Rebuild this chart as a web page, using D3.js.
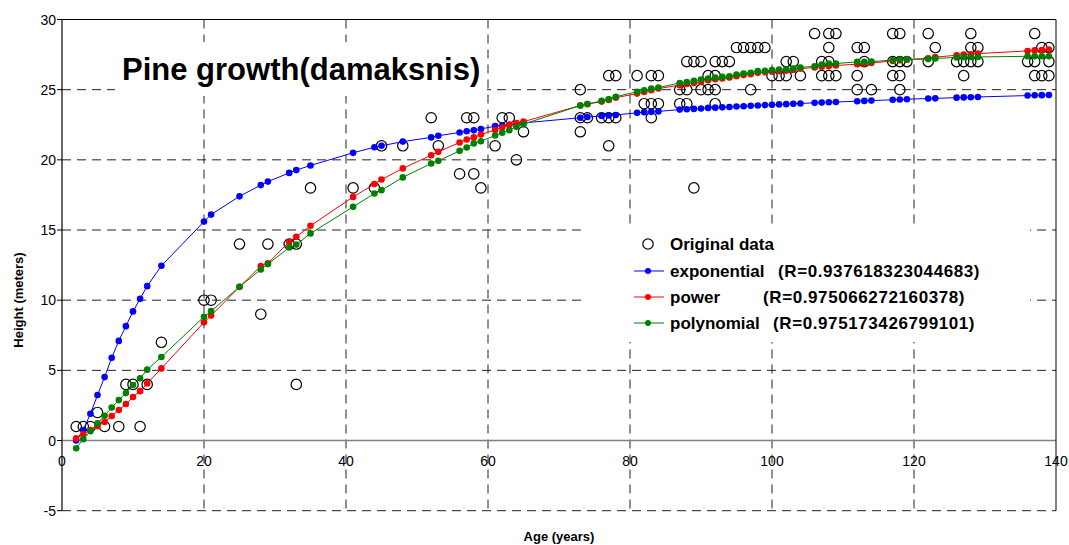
<!DOCTYPE html>
<html><head><meta charset="utf-8">
<script src="https://cdn.jsdelivr.net/npm/d3@7/dist/d3.min.js"></script>
<style>body{margin:0;background:#fff}svg{display:block}text{font-family:"Liberation Sans",Arial,sans-serif}</style>
</head><body><svg id="c" width="1069" height="545"></svg>
<script>
// ---- data ----
const dataAges = [2,3,4,5,6,8,9,10,11,12,14,20,21,25,28,29,32,33,33,35,41,44,45,48,52,53,56,57,58,58,59,61,62,63,64,65,
73,73,73,74,76,77,77,77,78,78,81,82,83,83,83,84,84,87,87,88,88,88,89,90,89,90,91,91,92,92,92,92,93,94,
95,96,97,98,99,97,100,101,102,104,102,103,106,108,109,108,107,108,107,108,109,112,113,112,112,114,113,
117,118,117,118,118,117,118,119,122,123,122,128,128,129,126,127,128,129,127,137,138,139,136,137,139,137,138,139];
const dataHeights = [1,1,1,2,1,1,4,4,1,4,7,10,10,14,9,14,14,14,4,18,18,18,21,21,23,21,19,23,23,19,18,21,23,23,20,22,
25,23,22,23,23,23,21,26,26,23,26,24,26,24,23,26,24,25,24,25,24,27,27,27,18,25,25,26,26,25,24,27,27,27,
28,28,28,28,28,25,26,26,26,26,27,27,29,29,29,28,27,27,26,26,26,28,28,26,25,25,27,
29,29,26,26,25,27,27,27,29,28,27,29,28,28,27,27,27,27,26,29,28,28,27,27,27,26,26,26];

const fitAges = [2,3,4,5,6,7,8,9,10,11,12,14,20,21,25,28,29,32,33,35,41,44,45,48,52,53,56,57,58,59,61,62,63,64,65,
73,74,76,77,78,81,82,83,84,87,88,89,90,91,92,93,94,95,96,97,98,99,100,101,102,103,104,106,107,108,109,
112,113,114,117,118,119,122,123,126,127,128,129,136,137,138,139];
const expValues = [0.0,0.75,1.9,3.24,4.52,5.9,7.1,8.15,9.2,10.1,11.0,12.45,15.6,16.1,17.4,18.2,18.45,19.07,19.27,19.6,20.5,20.9,21.0,21.3,21.6,21.72,21.95,22.04,22.1,22.2,22.4,22.45,22.5,22.58,22.63,
23.0,23.05,23.12,23.16,23.2,23.35,23.4,23.42,23.45,23.58,23.6,23.63,23.66,23.7,23.72,23.74,23.77,23.8,23.82,23.85,23.87,23.9,23.92,23.95,23.97,24.0,24.02,24.06,24.08,24.1,24.12,
24.18,24.2,24.22,24.28,24.3,24.32,24.37,24.38,24.43,24.45,24.46,24.48,24.58,24.6,24.61,24.62];
const powValues = [0.15,0.45,0.75,1.02,1.32,1.74,2.17,2.6,3.1,3.52,4.07,5.14,8.42,8.9,10.95,12.43,12.62,14.16,14.52,15.3,17.36,18.27,18.6,19.39,20.33,20.57,21.24,21.45,21.6,21.8,22.13,22.3,22.5,22.62,22.72,
23.87,23.97,24.15,24.27,24.43,24.72,24.84,24.96,25.08,25.32,25.4,25.48,25.55,25.68,25.74,25.8,25.86,25.96,26.04,26.1,26.2,26.24,26.28,26.32,26.35,26.4,26.5,26.58,26.64,26.68,26.72,
26.82,26.86,26.9,27.05,27.1,27.14,27.24,27.32,27.45,27.5,27.52,27.57,27.76,27.8,27.82,27.86];
const polyValues = [-0.55,0.1,0.66,1.22,1.77,2.35,2.88,3.38,3.95,4.43,5.05,5.95,8.82,9.22,10.95,12.19,12.57,13.75,13.96,14.76,16.65,17.6,17.84,18.75,19.74,19.93,20.64,20.88,21.17,21.33,21.73,21.93,22.11,22.35,22.54,
23.87,23.98,24.2,24.32,24.5,24.85,24.96,25.08,25.15,25.48,25.55,25.63,25.72,25.8,25.86,25.91,25.96,26.08,26.15,26.2,26.32,26.34,26.39,26.44,26.46,26.51,26.58,26.67,26.79,26.86,26.86,
26.98,26.99,27.0,27.1,27.15,27.15,27.18,27.22,27.3,27.32,27.33,27.33,27.38,27.38,27.38,27.38];

const xTicks = [0,20,40,60,80,100,120,140];
const yTicks = [-5,0,5,10,15,20,25,30];
const titleText = "Pine growth(damaksnis)";
const xTitle = "Age (years)";
const yTitle = "Height (meters)";
const seriesNames = ["exponential","power","polynomial"];
const seriesR = ["(R=0.937618323044683)","(R=0.975066272160378)","(R=0.975173426799101)"];
const seriesColors = ["#0000ff","#ff0000","#008000"];

// ---- layout ----
const svg = d3.select("#c");
const L = 62, R = 1056, T = 19.5, B = 510.7;
const x = d3.scaleLinear().domain([0,140]).range([L,R]);
const y = d3.scaleLinear().domain([-5,30]).range([B,T]);

const g = svg.append("g");
// gridlines
g.selectAll(".hg").data(yTicks.filter(v=>v!==0 && v!==30)).enter().append("line")
  .attr("x1",L).attr("x2",R).attr("y1",d=>y(d)).attr("y2",d=>y(d))
  .attr("stroke","#222").attr("stroke-width",1).attr("stroke-dasharray","9,6");
g.selectAll(".vg").data(xTicks.filter(v=>v!==0 && v!==140)).enter().append("line")
  .attr("y1",T).attr("y2",B).attr("x1",d=>x(d)).attr("x2",d=>x(d))
  .attr("stroke","#222").attr("stroke-width",1).attr("stroke-dasharray","9,6");
// zero line
g.append("line").attr("x1",L).attr("x2",R).attr("y1",y(0)).attr("y2",y(0)).attr("stroke","#808080").attr("stroke-width",1.5);
// border
g.append("line").attr("x1",L).attr("x2",R).attr("y1",T).attr("y2",T).attr("stroke","#000");
g.append("line").attr("x1",R).attr("x2",R).attr("y1",T).attr("y2",B).attr("stroke","#000");
g.append("line").attr("x1",L).attr("x2",L).attr("y1",T).attr("y2",B).attr("stroke","#000").attr("stroke-width",1.2);

// y axis labels + ticks
g.selectAll(".yl").data(yTicks).enter().append("text")
  .attr("x",L-6).attr("y",d=>y(d)+5).attr("text-anchor","end").attr("font-size",14).attr("fill","#000").text(d=>d);
g.selectAll(".yt").data(yTicks).enter().append("line")
  .attr("x1",L-5).attr("x2",L).attr("y1",d=>y(d)).attr("y2",d=>y(d)).attr("stroke","#000");
// x axis labels
g.selectAll(".xl").data(xTicks).enter().append("text")
  .attr("x",d=>x(d)).attr("y",y(0)+25).attr("text-anchor","middle").attr("font-size",14).attr("fill","#000").text(d=>d);

// axis titles
svg.append("text").attr("x",(L+R)/2).attr("y",541).attr("text-anchor","middle").attr("font-size",13).attr("font-weight","bold").text(xTitle);
svg.append("text").attr("transform","translate(23,300) rotate(-90)").attr("text-anchor","middle").attr("font-size",13).attr("font-weight","bold").text(yTitle);

// title
svg.append("rect").attr("x",115).attr("y",42).attr("width",372).attr("height",54).attr("fill","#fff");
svg.append("text").attr("x",122).attr("y",80).attr("font-size",31).attr("font-weight","bold").text(titleText);

// legend box
svg.append("rect").attr("x",585).attr("y",224).attr("width",445).attr("height",118).attr("fill","#fff");

// data circles
svg.append("g").selectAll("circle").data(dataAges.map((a,i)=>[a,dataHeights[i]])).enter().append("circle")
  .attr("cx",d=>x(d[0])).attr("cy",d=>y(d[1])).attr("r",5.2).attr("fill","none").attr("stroke","#000").attr("stroke-width",1.2);

// fits
const fits = [expValues,powValues,polyValues];
const line = d3.line().x(d=>x(d[0])).y(d=>y(d[1]));
fits.forEach((vals,k)=>{
  const pts = fitAges.map((a,i)=>[a,vals[i]]);
  const sg = svg.append("g");
  sg.append("path").attr("d",line(pts)).attr("fill","none").attr("stroke",seriesColors[k]).attr("stroke-width",1);
  sg.selectAll("circle").data(pts).enter().append("circle")
    .attr("cx",d=>x(d[0])).attr("cy",d=>y(d[1])).attr("r",3.3).attr("fill",seriesColors[k]);
});

// legend
const lg = svg.append("g");
lg.append("circle").attr("cx",648).attr("cy",244).attr("r",5.2).attr("fill","none").attr("stroke","#000").attr("stroke-width",1.2);
lg.append("text").attr("x",670).attr("y",250).attr("font-size",17).attr("font-weight","bold").text("Original data");
const rowsY = [271,297,323];
const rX = [778,763,773];
seriesNames.forEach((n,k)=>{
  lg.append("line").attr("x1",634).attr("x2",664).attr("y1",rowsY[k]).attr("y2",rowsY[k]).attr("stroke",seriesColors[k]);
  lg.append("circle").attr("cx",648).attr("cy",rowsY[k]).attr("r",3).attr("fill",seriesColors[k]);
  lg.append("text").attr("x",670).attr("y",rowsY[k]+6).attr("font-size",17).attr("font-weight","bold").text(n);
  lg.append("text").attr("x",rX[k]).attr("y",rowsY[k]+6).attr("font-size",17).attr("font-weight","bold").attr("letter-spacing",0.6).text(seriesR[k]);
});
</script></body></html>
